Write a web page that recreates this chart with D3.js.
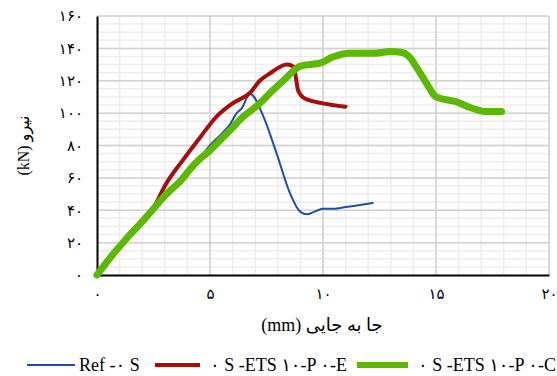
<!DOCTYPE html>
<html>
<head>
<meta charset="utf-8">
<script src="https://cdn.jsdelivr.net/npm/d3@7"></script>
<style>
  body { margin: 0; background: #fff; }
  text { font-family: "Liberation Serif", "DejaVu Sans", serif; fill: #000; }
</style>
</head>
<body>
<svg id="chart" width="557" height="376"></svg>
<script>
// displacement (mm) / load (kN)
const refX = [0, 1.24, 2.57, 3.75, 4.5, 4.93, 5.5, 5.88, 6.18, 6.4, 6.77, 7.36, 7.95, 8.54, 9, 9.3, 9.6, 10, 10.5, 11, 11.5, 12.2];
const refY = [0, 21, 41, 58, 70, 79, 87, 93, 100, 103, 112, 98, 75, 50.5, 39, 37.5, 39, 41, 41, 42, 43, 44.5];

const eX = [0, 0.6, 1.24, 2, 2.6, 3, 3.8, 4.56, 5.3, 6, 6.8, 7.2, 7.65, 8.4, 8.7, 8.9, 9.2, 10, 11];
const eY = [0, 10, 21, 33, 44, 55, 71, 85, 98, 106, 113, 120, 124.5, 130, 128.7, 114, 109, 106, 104];

const cX = [0, 0.6, 1.24, 2, 2.57, 3, 3.75, 4.1, 4.5, 5, 5.5, 6, 6.33, 7.2, 7.7, 8.24, 9, 9.9, 10.4, 11.2, 12.2, 13, 13.5, 13.8, 14.2, 14.6, 15, 15.9, 16.6, 17.2, 17.9];
const cY = [0, 11, 21.5, 33, 42, 49, 59, 65, 71, 77, 84, 91, 96, 106, 113, 120, 129, 131, 134.5, 137, 137, 138, 137.5, 135, 127, 118, 110, 107, 103, 101, 101];

const xTicks = [0, 5, 10, 15, 20];
const yTicks = [0, 20, 40, 60, 80, 100, 120, 140, 160];
const seriesNames = ["Ref -۰ S", "۰ S -ETS ۱۰-P ۰-E", "۰ S -ETS ۱۰-P ۰-C"];

const fa = s => String(s).replace(/[0-9]/g, d => "۰۱۲۳۴۵۶۷۸۹"[d]);

const svg = d3.select("#chart");
const x = d3.scaleLinear().domain([0, 20]).range([97, 549]);
const y = d3.scaleLinear().domain([0, 160]).range([275, 16]);

// minor grid
const grid = svg.append("g");
grid.selectAll(".vmin").data(d3.range(1, 21)).join("line")
  .attr("x1", d => x(d)).attr("x2", d => x(d))
  .attr("y1", y(0)).attr("y2", y(160))
  .attr("stroke", "#ececec").attr("stroke-width", 1.5);
grid.selectAll(".hmin").data(d3.range(5, 161, 5)).join("line")
  .attr("x1", x(0)).attr("x2", x(20))
  .attr("y1", d => y(d)).attr("y2", d => y(d))
  .attr("stroke", "#ececec").attr("stroke-width", 1.5);
// major grid
grid.selectAll(".vmaj").data(xTicks.slice(1)).join("line")
  .attr("x1", d => x(d)).attr("x2", d => x(d))
  .attr("y1", y(0)).attr("y2", y(160))
  .attr("stroke", "#d2d2d2").attr("stroke-width", 1.5);
grid.selectAll(".hmaj").data(yTicks.slice(1)).join("line")
  .attr("x1", x(0)).attr("x2", x(20))
  .attr("y1", d => y(d)).attr("y2", d => y(d))
  .attr("stroke", "#d2d2d2").attr("stroke-width", 1.5);

// axes
const xAxis = svg.append("g").attr("transform", `translate(0,${y(0)})`)
  .call(d3.axisBottom(x).tickValues(xTicks).tickSize(0).tickPadding(13).tickFormat(fa));
const yAxis = svg.append("g").attr("transform", `translate(${x(0)},0)`)
  .call(d3.axisLeft(y).tickValues(yTicks).tickSize(0).tickPadding(14).tickFormat(fa));
[xAxis, yAxis].forEach(a => {
  a.select(".domain").attr("stroke", "#000").attr("stroke-width", 2);
  a.selectAll("text").attr("font-size", 15).attr("font-family", "'Liberation Serif','DejaVu Sans',serif");
});

// series
const line = d3.line().x(d => x(d[0])).y(d => y(d[1])).curve(d3.curveMonotoneX);
const series = [
  { xs: refX, ys: refY, color: "#1f4ea0", w: 2 },
  { xs: eX, ys: eY, color: "#a80d0d", w: 4 },
  { xs: cX, ys: cY, color: "#5cb800", w: 7 }
];
// blue at the bottom, green on top
series.forEach(s => {
  svg.append("path")
    .datum(s.xs.map((v, i) => [v, s.ys[i]]))
    .attr("d", line)
    .attr("fill", "none")
    .attr("stroke", s.color)
    .attr("stroke-width", s.w)
    .attr("stroke-linejoin", "round")
    .attr("stroke-linecap", "round");
});

// axis titles
svg.append("text")
  .attr("transform", `translate(29,${y(80)}) rotate(-90)`)
  .attr("text-anchor", "middle")
  .attr("font-size", 16)
  .text("(kN) نیرو");
svg.append("text")
  .attr("x", 322).attr("y", 331)
  .attr("text-anchor", "middle")
  .attr("font-size", 18)
  .text("(mm) جا به جایی");

// legend
const legX = [[27, 75, 79], [155, 200, 210], [357, 408, 418]];
const legend = svg.append("g");
series.forEach((s, i) => {
  legend.append("line")
    .attr("x1", legX[i][0]).attr("x2", legX[i][1])
    .attr("y1", 365).attr("y2", 365)
    .attr("stroke", s.color).attr("stroke-width", s.w === 7 ? 6 : s.w);
  legend.append("text")
    .attr("x", legX[i][2]).attr("y", 371)
    .attr("font-size", 18)
    .text(seriesNames[i]);
});
</script>
</body>
</html>
